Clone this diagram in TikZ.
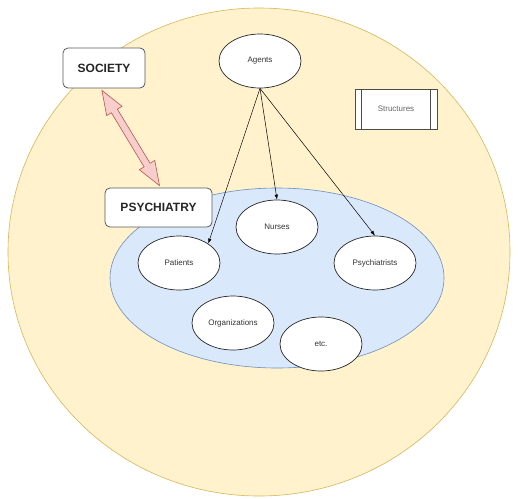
\documentclass[tikz,border=0pt]{standalone}
\usepackage{fontspec}
\setmainfont{Liberation Sans}
\usetikzlibrary{shapes.geometric,arrows.meta,calc}
\definecolor{outerfill}{HTML}{FFF2CC}
\definecolor{outerline}{HTML}{D6B656}
\definecolor{innerfill}{HTML}{DAE8FC}
\definecolor{innerline}{HTML}{6C8EBF}
\definecolor{arrfill}{HTML}{F8CECC}
\definecolor{arrline}{HTML}{B85450}
\definecolor{txt}{HTML}{333333}
\begin{document}
\begin{tikzpicture}[x=1pt,y=-1pt,
  oval/.style={ellipse, draw=black!85, line width=0.7pt, fill=white, minimum width=82pt, minimum height=54pt, inner sep=0pt, font=\fontsize{8}{9}\selectfont, text=txt},
  bigbox/.style={rectangle, rounded corners=5pt, draw=black!65, line width=0.8pt, fill=white, font=\bfseries\fontsize{12}{14}\selectfont, text=black!85, inner sep=0pt},
  procbox/.style={rectangle, draw=black!70, line width=0.6pt, fill=white, minimum width=82pt, minimum height=40pt, inner sep=0pt, font=\fontsize{8}{9}\selectfont, text=black!60},
  link/.style={draw=black, line width=0.5pt, -{Latex[length=5pt,width=3.5pt]}},
  dblarrow/.style={draw=arrline, fill=arrfill, line width=0.6pt, line join=miter}
]
\useasboundingbox (0,0) rectangle (518,498);
\node[ellipse, draw=outerline, fill=outerfill, line width=0.6pt, minimum width=502pt, minimum height=488pt, inner sep=0pt] (world) at (259,252) {};
\node[ellipse, draw=innerline, fill=innerfill, line width=0.6pt, minimum width=334pt, minimum height=180pt, inner sep=0pt] (psyfield) at (277,278) {};

\node[bigbox, minimum width=82pt, minimum height=40pt] (society) at (104,68) {SOCIETY};
\node[bigbox, minimum width=107pt, minimum height=39pt] (psychiatry) at (158.5,207.5) {PSYCHIATRY};

\node[procbox] (structures) at (396,109) {Structures};
\draw[black!70, line width=0.6pt] ([xshift=7pt]structures.north west) -- ([xshift=7pt]structures.south west);
\draw[black!70, line width=0.6pt] ([xshift=-7pt]structures.north east) -- ([xshift=-7pt]structures.south east);

\node[oval] (agents) at (260,61) {Agents};
\node[oval] (nurses) at (277,227) {Nurses};
\node[oval] (patients) at (179,263) {Patients};
\node[oval] (psychiatrists) at (375,263) {Psychiatrists};
\node[oval] (organizations) at (233,323) {Organizations};
\node[oval] (etc) at (321,344) {etc.};

\draw[link] (agents.south) -- (patients.north east);
\draw[link] (agents.south) -- (nurses.north);
\draw[link] (agents.south) -- (psychiatrists.north);

\coordinate (sa) at ($($(society.south west)!0.475!(society.south east)$)+(0,2)$);
\coordinate (pa) at ($(psychiatry.north)+(1,-2)$);
\draw[dblarrow]
  (sa)
  -- ($(sa)!24pt!(pa)!9pt!90:(pa)$)
  -- ($(sa)!24pt!(pa)!3.5pt!90:(pa)$)
  -- ($(pa)!24pt!(sa)!3.5pt!-90:(sa)$)
  -- ($(pa)!24pt!(sa)!9pt!-90:(sa)$)
  -- (pa)
  -- ($(pa)!24pt!(sa)!9pt!90:(sa)$)
  -- ($(pa)!24pt!(sa)!3.5pt!90:(sa)$)
  -- ($(sa)!24pt!(pa)!3.5pt!-90:(pa)$)
  -- ($(sa)!24pt!(pa)!9pt!-90:(pa)$)
  -- cycle;
\end{tikzpicture}
\end{document}
